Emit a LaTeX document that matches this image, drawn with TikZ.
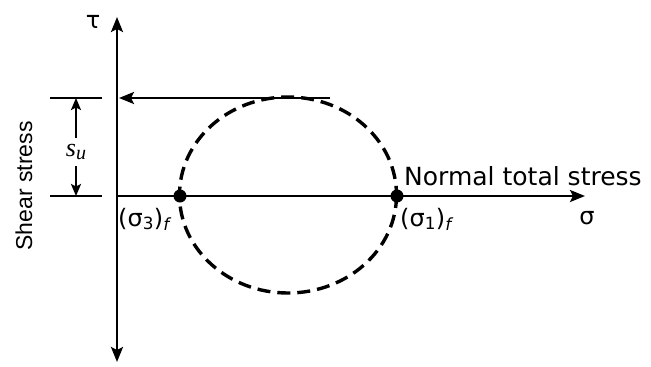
\documentclass[tikz,border=0pt]{standalone}
\usepackage{fontspec}
\setmainfont{DejaVu Sans}
\newfontfamily\serifit{Liberation Serif}
\newfontfamily\narrowsans{Liberation Sans}
\usetikzlibrary{arrows.meta}
\begin{document}
\begin{tikzpicture}[x=1pt,y=-1pt,
  axis/.style={line width=2.4pt,-{Stealth[length=15pt,width=12pt,inset=3pt]}},
  thin line/.style={line width=2.2pt},
  lbl/.style={font=\fontsize{24}{26}\selectfont,inner sep=0pt},
  dot/.style={circle,fill=black,inner sep=0pt,minimum size=13pt}]
\useasboundingbox (0,0) rectangle (651,367);
% axes
\coordinate (O) at (117,196);
\coordinate (ytop) at (117,17);
\coordinate (ybot) at (117,362);
\coordinate (xend) at (585,196);
\draw[axis] (O) -- (ytop);
\draw[axis] (O) -- (ybot);
\draw[axis] (O) -- (xend);
% circle
\draw[line width=3.4pt,dash pattern=on 13pt off 7pt] (288,195) ellipse [x radius=108.5, y radius=98];
\node[dot] (s3) at (180,196) {};
\node[dot] (s1) at (397,196) {};
% top arrow
\coordinate (tR) at (330,98);
\coordinate (tL) at (119,98);
\draw[axis] (tR) -- (tL);
% ticks
\coordinate (a1) at (50,98); \coordinate (a2) at (102,98);
\coordinate (b1) at (50,196); \coordinate (b2) at (102,196);
\draw[thin line] (a1) -- (a2);
\draw[thin line] (b1) -- (b2);
\node[inner sep=0pt] (su) at (76,152) {\fontsize{26}{28}\selectfont\serifit\itshape s\raisebox{-0.3ex}{\fontsize{20}{22}\selectfont u}};
\coordinate (sa) at (76,98); \coordinate (sb) at (76,196);
\draw[line width=2.2pt,-{Stealth[length=12pt,width=10pt,inset=2.5pt]}] (su.north) ++(0,-6) -- (sa);
\draw[line width=2.2pt,-{Stealth[length=12pt,width=10pt,inset=2.5pt]}] (su.south) ++(0,6) -- (sb);
% labels
\node[lbl] (tau) at (93,22) {τ};
\node[lbl] (sig) at (587,218) {σ};
\node[lbl,anchor=west,font=\fontsize{25}{27}\selectfont] (ntl) at (404,176) {Normal total stress};
\node[lbl,anchor=west] (s1l) at (400,219) {(σ\textsubscript{1})\textsubscript{\itshape f}};
\node[lbl,anchor=west] (s3l) at (118,219) {(σ\textsubscript{3})\textsubscript{\itshape f}};
\node[lbl,rotate=90,font=\fontsize{23}{25}\selectfont\narrowsans] (shear) at (24,186) {Shear stress};
\end{tikzpicture}
\end{document}
